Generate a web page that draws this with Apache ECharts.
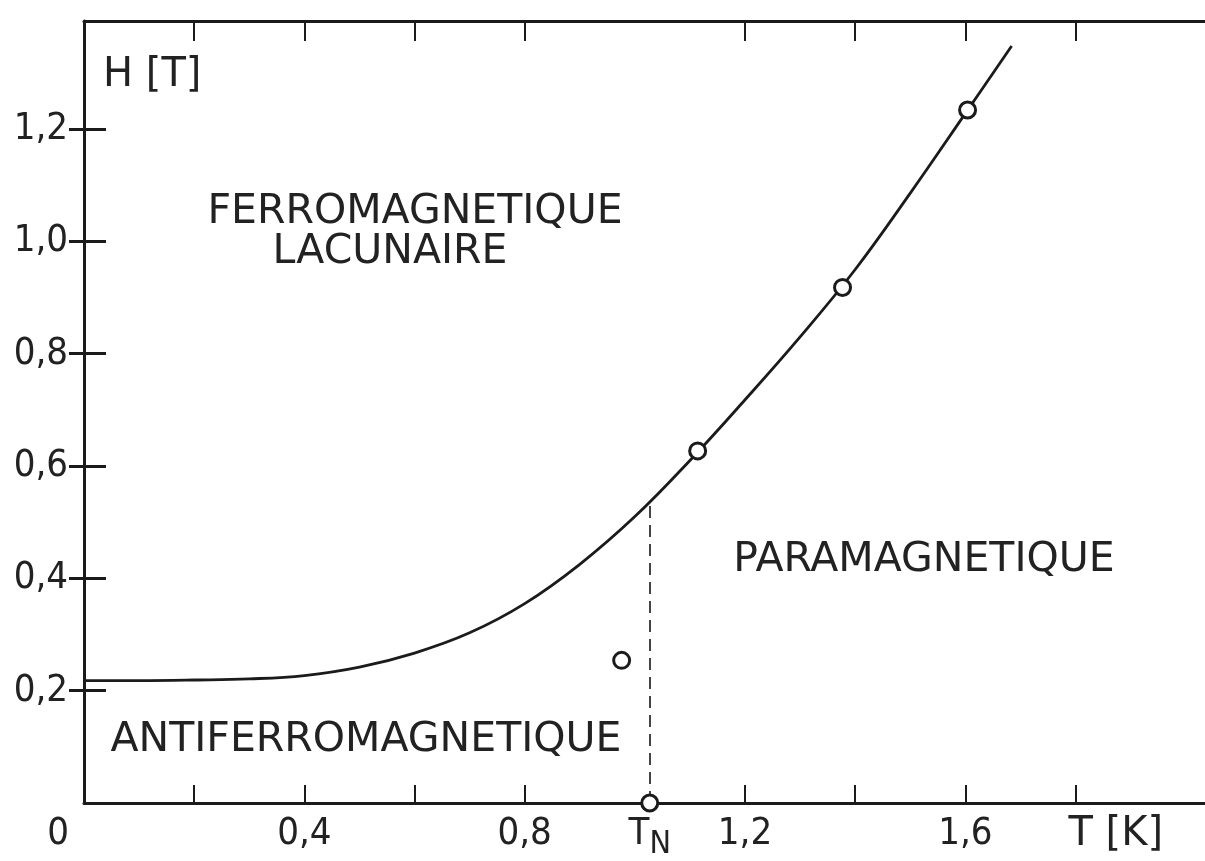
<!DOCTYPE html>
<html>
<head>
<meta charset="utf-8">
<script src="https://cdn.jsdelivr.net/npm/echarts@6/dist/echarts.min.js"></script>
<style>
  html, body { margin: 0; padding: 0; background: #ffffff; }
  #chart { width: 1205px; height: 861px; }
</style>
</head>
<body>
<div id="chart"></div>
<script>
// Phase boundary H(T): smooth line through the measured transition fields
const curveT = [0, 0.1, 0.2, 0.3, 0.4, 0.5, 0.6, 0.7, 0.8, 0.9, 1.0, 1.1, 1.2, 1.3, 1.4, 1.5, 1.6, 1.684];
const curveH = [0.218, 0.218, 0.219, 0.221, 0.227, 0.242, 0.267, 0.303, 0.355, 0.425, 0.510, 0.610, 0.718, 0.830, 0.950, 1.086, 1.228, 1.348];

// Measured points (open circles)
const pointT = [0.976, 1.027, 1.114, 1.377, 1.604];
const pointH = [0.254, 0, 0.627, 0.918, 1.234];

// Néel temperature and the field where the boundary crosses it
const TN = 1.027;
const H_TN = 0.532;

// Axis ticks and labels
const xTickValues = [0.2, 0.4, 0.6, 0.8, 1.2, 1.4, 1.6, 1.8];
const xLabelValues = [0, 0.4, 0.8, 1.2, 1.6];
const yTickValues = [0.2, 0.4, 0.6, 0.8, 1.0, 1.2];
const xAxisTitle = 'T [K]';
const yAxisTitle = 'H [T]';
const xAxisTitleAt = 1.873;

// Phase region names
const regionNames = {
  ferro: ['FERROMAGNETIQUE', 'LACUNAIRE'],
  para: 'PARAMAGNETIQUE',
  antiferro: 'ANTIFERROMAGNETIQUE'
};

const INK = '#1b1b1b';
const LABEL_FONT = '"DejaVu Sans Condensed", "DejaVu Sans", sans-serif';
const TEXT_FONT = '"DejaVu Sans", sans-serif';

const fmtNum = v => (v === 0 ? '0' : v.toFixed(1).replace('.', ','));

const curveData = curveT.map((t, i) => [t, curveH[i]]);
const pointData = pointT.map((t, i) => [t, pointH[i]]);

const chart = echarts.init(document.getElementById('chart'), null, { renderer: 'canvas' });

const xLabels = xLabelValues.concat([TN, xAxisTitleAt]).sort((a, b) => a - b);

const regionText = (x, y, text) => ({
  type: 'text', x: x, y: y,
  style: { text: text, font: '41px ' + TEXT_FONT, fill: '#222', align: 'center', verticalAlign: 'middle', textAlign: 'center', textVerticalAlign: 'middle' }
});

chart.setOption({
  animation: false,
  backgroundColor: '#ffffff',
  grid: { left: 84, right: 0, top: 21, bottom: 56, containLabel: false },
  xAxis: [
    {
      type: 'value', position: 'bottom', min: 0, max: 2.035,
      axisLine: { show: true, onZero: false, lineStyle: { color: INK, width: 3 } },
      axisTick: { show: true, inside: true, length: 18, customValues: xTickValues, lineStyle: { color: INK, width: 2 } },
      axisLabel: {
        show: true, margin: 12, customValues: xLabels, hideOverlap: false,
        color: '#222', fontFamily: LABEL_FONT, fontSize: 38,
        formatter: function (v) {
          if (Math.abs(v - TN) < 1e-6) return '{t|T}{n|N}';
          if (Math.abs(v - xAxisTitleAt) < 1e-6) return '{k|' + xAxisTitle + '}';
          if (v === 0) return '{o|0}';
          return fmtNum(v);
        },
        rich: {
          t: { fontFamily: LABEL_FONT, fontSize: 38, color: '#222', verticalAlign: 'top', lineHeight: 40 },
          n: { fontFamily: LABEL_FONT, fontSize: 32, color: '#222', verticalAlign: 'top', lineHeight: 40, padding: [14, 0, 0, 0] },
          o: { fontFamily: LABEL_FONT, fontSize: 38, color: '#222', padding: [0, 52, 0, 0] },
          k: { fontFamily: TEXT_FONT, fontSize: 40, color: '#222' }
        }
      },
      splitLine: { show: false }
    },
    {
      type: 'value', position: 'top', min: 0, max: 2.035,
      axisLine: { show: true, onZero: false, lineStyle: { color: INK, width: 3 } },
      axisTick: { show: true, inside: true, length: 20, customValues: xTickValues, lineStyle: { color: INK, width: 2 } },
      axisLabel: { show: false },
      splitLine: { show: false }
    }
  ],
  yAxis: [
    {
      type: 'value', position: 'left', min: 0, max: 1.3925,
      name: yAxisTitle, nameLocation: 'end', nameGap: -55,
      nameTextStyle: { fontFamily: TEXT_FONT, fontSize: 40, color: '#222', align: 'left', verticalAlign: 'middle', padding: [0, 0, 0, 19] },
      axisLine: { show: true, onZero: false, lineStyle: { color: INK, width: 3 } },
      axisTick: { show: true, inside: true, length: 22, customValues: yTickValues, lineStyle: { color: INK, width: 3 } },
      axisLabel: {
        show: true, margin: 16, customValues: yTickValues,
        color: '#222', fontFamily: LABEL_FONT, fontSize: 38,
        formatter: fmtNum
      },
      splitLine: { show: false }
    },
    {
      type: 'value', position: 'right', min: 0, max: 1.3925,
      axisLine: { show: false },
      axisTick: { show: true, inside: true, length: 15, customValues: yTickValues, lineStyle: { color: INK, width: 3 } },
      axisLabel: { show: false },
      splitLine: { show: false }
    }
  ],
  series: [
    {
      type: 'line', name: 'boundary', data: curveData, smooth: 0.4,
      showSymbol: false, symbol: 'none',
      lineStyle: { color: INK, width: 2.8 },
      z: 3,
      markLine: {
        silent: true, symbol: 'none', label: { show: false },
        lineStyle: { color: '#444', width: 2, type: [12, 7] },
        data: [[{ coord: [TN, 0] }, { coord: [TN, H_TN] }]]
      }
    },
    {
      type: 'scatter', name: 'points', data: pointData,
      symbol: 'circle', symbolSize: 16, clip: false,
      itemStyle: { color: '#ffffff', borderColor: INK, borderWidth: 3, opacity: 1 },
      z: 5
    }
  ],
  graphic: [
    regionText(415, 212, regionNames.ferro[0]),
    regionText(390, 252, regionNames.ferro[1]),
    regionText(924, 560, regionNames.para),
    regionText(366, 740, regionNames.antiferro)
  ]
});
</script>
</body>
</html>
